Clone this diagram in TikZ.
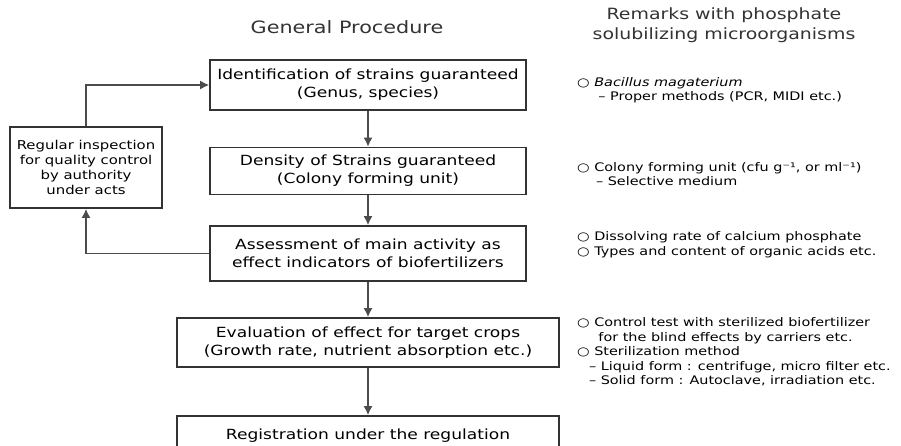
\documentclass[tikz,border=0pt]{standalone}
\usepackage{fontspec}
\setmainfont[FakeStretch=1.22]{DejaVu Sans}
\usetikzlibrary{arrows.meta}
\tikzset{
  stepbox/.style={draw=black!80, line width=1.7pt, inner sep=0pt, align=center,
    font=\fontsize{14}{18}\selectfont},
  flow/.style={draw=black!70, line width=1.5pt, -{Latex[length=9pt,width=9pt]}},
  remark/.style={anchor=west, align=left, inner sep=0pt,
    font=\fontsize{11.8}{14.5}\selectfont}
}
\begin{document}
\begin{tikzpicture}[x=1pt,y=-1pt]
                \useasboundingbox (0,0) rectangle (901,445);
                \fill [white] (0,0) rectangle (901,445);

                % Column headings
                \node (headproc) at (347,27) [font=\fontsize{17}{20}\selectfont, text=black!80] {General Procedure};
                \node (headrem) at (724,25) [align=center, font=\fontsize{15.5}{20}\selectfont, text=black!80]
                  {Remarks with phosphate\\ solubilizing microorganisms};

                % Procedure boxes
                \node (ident) at (368,85) [stepbox, minimum width=316pt, minimum height=50pt]
                  {Identification of strains guaranteed\\ (Genus, species)};
                \node (dens) at (368,171) [stepbox, minimum width=316pt, minimum height=47pt]
                  {Density of Strains guaranteed\\ (Colony forming unit)};
                \node (assess) at (368,253.5) [stepbox, minimum width=316pt, minimum height=55pt]
                  {Assessment of main activity as\\ effect indicators of biofertilizers};
                \node (eval) at (368,342.5) [stepbox, minimum width=382pt, minimum height=49pt]
                  {Evaluation of effect for target crops\\ (Growth rate, nutrient absorption etc.)};
                \node (regist) at (368,438) [stepbox, minimum width=382pt, minimum height=44pt]
                  {\raisebox{7pt}{Registration under the regulation}};

                % Inspection box
                \node (inspect) at (86,167.5) [stepbox, minimum width=152pt, minimum height=81pt,
                  font=\fontsize{12.2}{15}\selectfont]
                  {Regular inspection\\ for quality control\\ by authority\\ under acts};

                % Drawing connectors
                \draw [flow] (ident) -- (dens);
                \draw [flow] (dens) -- (assess);
                \draw [flow] (assess) -- (eval);
                \draw [flow] (eval) -- (regist);
                \draw [flow] (assess.west) -| (inspect.south);
                \draw [flow] (inspect.north) |- (ident.west);

                % Remarks
                \node (remident) at (577,90) [remark]
                  {○ \textit{Bacillus magaterium}\\ \hspace*{1.8em}– Proper methods (PCR, MIDI etc.)};
                \node (remdens) at (577,174) [remark]
                  {○ Colony forming unit (cfu g⁻¹, or ml⁻¹)\\ \hspace*{1.6em}– Selective medium};
                \node (remassess) at (577,244.5) [remark]
                  {○ Dissolving rate of calcium phosphate\\ ○ Types and content of organic acids etc.};
                \node (remeval) at (577,352) [remark]
                  {○ Control test with sterilized biofertilizer\\
                   \hspace*{1.8em}for the blind effects by carriers etc.\\
                   ○ Sterilization method\\
                   \hspace*{1em}– Liquid form : centrifuge, micro filter etc.\\
                   \hspace*{1em}– Solid form : Autoclave, irradiation etc.};
\end{tikzpicture}
\end{document}
